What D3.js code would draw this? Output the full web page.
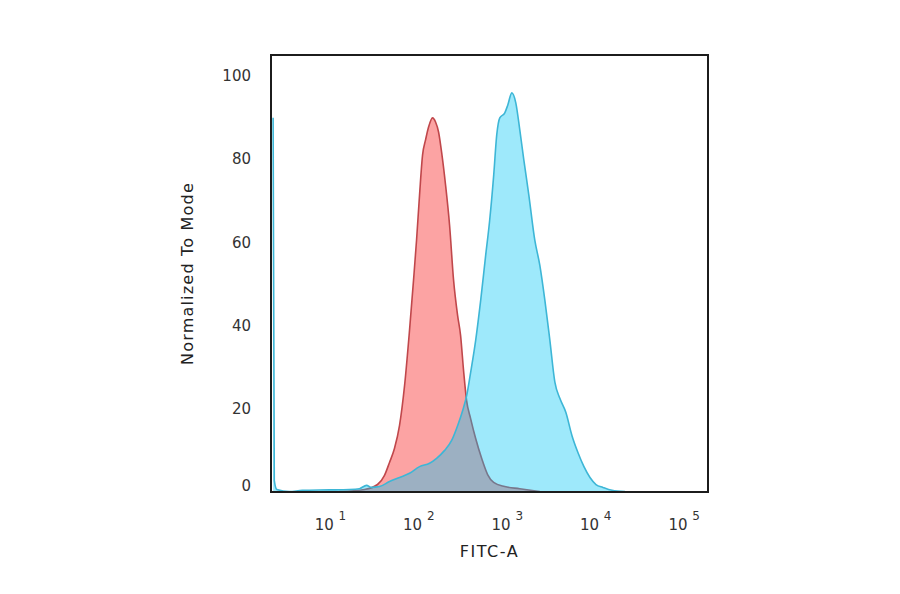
<!DOCTYPE html>
<html>
<head>
<meta charset="utf-8">
<script src="https://cdn.jsdelivr.net/npm/d3@7"></script>
<style>
  body { margin: 0; background: #fff; }
  text { font-family: "DejaVu Sans", sans-serif; }
</style>
</head>
<body>
<div id="wrapper"></div>
<script>
// isotype control (red)
const redIntensity = [12.6, 24.3, 34.1, 40.9, 46.6, 53.1, 60.5, 69.0, 78.5, 87.1, 94.2, 101.9,
  110.2, 119.1, 128.8, 142.9, 154.5, 167.1, 180.7, 200.4, 222.6, 247.0, 274.0, 296.2,
  320.4, 346.4, 384.4, 438.3, 512.7, 599.5, 701.1, 934.4, 1383, 2332];
const redCount = [0.1, 0.6, 1.8, 4.0, 7.1, 10.5, 16.0, 25.6, 38.9, 50.9, 60.5, 71.4,
  81.0, 84.6, 87.7, 89.9, 88.9, 86.5, 81.7, 73.8, 64.1, 50.9, 42.5, 37.7,
  29.2, 22.0, 17.7, 12.9, 8.1, 4.2, 2.3, 1.3, 0.8, 0.1];

// stained sample (blue)
const blueIntensity = [2.25, 2.32, 2.48, 3.43, 4.82, 9.75, 16.4, 21.3, 25.6, 29.2, 35.9, 46.6,
  60.5, 78.5, 101.9, 132.2, 158.7, 195.8, 234.9, 274.9, 313.2, 347.7, 385.7, 439.5,
  500.6, 570.0, 632.4, 702.7, 759.9, 822.4, 937.1, 1014, 1125, 1248, 1385, 1538,
  1751, 2047, 2332, 2659, 3029, 3452, 3930, 4600, 5380, 6290, 7360, 8610,
  10070, 12080, 15280, 21430];
const blueCount = [89.9, 2.8, 0.6, 0.1, 0.4, 0.5, 0.6, 0.8, 1.6, 1.1, 1.3, 2.5,
  3.5, 4.5, 6.1, 6.9, 8.1, 10.0, 12.4, 16.0, 19.6, 23.2, 28.8, 36.5,
  46.1, 56.9, 65.3, 76.2, 85.8, 89.9, 91.1, 93.0, 95.9, 93.5, 87.0, 79.8,
  71.4, 60.5, 54.5, 46.1, 36.5, 26.4, 22.5, 19.1, 13.6, 9.5, 6.1, 3.5,
  1.8, 1.1, 0.4, 0.1];

const xTicks = [1e1, 1e2, 1e3, 1e4, 1e5];
const xTickExponents = ["1", "2", "3", "4", "5"];
const yTicks = [0, 20, 40, 60, 80, 100];
const xDomain = [2.13, 1.86e5];
const yDomain = [0, 105];

const dimensions = {
  width: 900,
  height: 594,
  margin: { top: 55, right: 192, bottom: 102, left: 271 },
};
dimensions.boundedWidth = dimensions.width - dimensions.margin.left - dimensions.margin.right;
dimensions.boundedHeight = dimensions.height - dimensions.margin.top - dimensions.margin.bottom;

const xScale = d3.scaleLog().domain(xDomain).range([0, dimensions.boundedWidth]);
const yScale = d3.scaleLinear().domain(yDomain).range([dimensions.boundedHeight, 0]);

const svg = d3.select("#wrapper").append("svg")
  .attr("width", dimensions.width)
  .attr("height", dimensions.height);

const bounds = svg.append("g")
  .attr("transform", `translate(${dimensions.margin.left},${dimensions.margin.top})`);

bounds.append("clipPath").attr("id", "plot-clip")
  .append("rect")
  .attr("width", dimensions.boundedWidth)
  .attr("height", dimensions.boundedHeight);

const plot = bounds.append("g").attr("clip-path", "url(#plot-clip)");

const area = d3.area()
  .x(d => xScale(d[0]))
  .y0(yScale(0))
  .y1(d => yScale(d[1]))
  .curve(d3.curveMonotoneX);
const outline = d3.line()
  .x(d => xScale(d[0]))
  .y(d => yScale(d[1]))
  .curve(d3.curveMonotoneX);

const redData = redIntensity.map((v, i) => [v, redCount[i]]);
const blueData = blueIntensity.map((v, i) => [v, blueCount[i]]);

plot.append("path").attr("d", area(redData)).attr("fill", "#fca3a3");
plot.append("path").attr("d", outline(redData))
  .attr("fill", "none").attr("stroke", "#c0474b").attr("stroke-width", 1.6);

plot.append("path").attr("d", area(blueData)).attr("fill", "rgba(0,197,245,0.38)");
plot.append("path").attr("d", outline(blueData))
  .attr("fill", "none").attr("stroke", "#3db6d6").attr("stroke-width", 1.6);

// frame
bounds.append("rect")
  .attr("width", dimensions.boundedWidth)
  .attr("height", dimensions.boundedHeight)
  .attr("fill", "none")
  .attr("stroke", "#1c1c1c")
  .attr("stroke-width", 2);

// y tick labels
bounds.append("g").selectAll("text")
  .data(yTicks)
  .join("text")
  .attr("x", -20)
  .attr("y", d => yScale(d))
  .attr("dy", d => d === 0 ? "-0.1em" : "0.35em")
  .attr("text-anchor", "end")
  .attr("font-size", 15)
  .attr("fill", "#333")
  .text(d => d);

// x tick labels (powers of ten)
const xLabels = bounds.append("g").selectAll("text")
  .data(xTicks)
  .join("text")
  .attr("x", d => xScale(d))
  .attr("y", dimensions.boundedHeight + 38)
  .attr("text-anchor", "middle")
  .attr("font-size", 15)
  .attr("fill", "#333");
xLabels.append("tspan").text("10 ");
xLabels.append("tspan")
  .attr("font-size", 12)
  .attr("dy", -10)
  .text((d, i) => xTickExponents[i]);

// axis titles
bounds.append("text")
  .attr("x", dimensions.boundedWidth / 2)
  .attr("y", dimensions.boundedHeight + 65)
  .attr("text-anchor", "middle")
  .attr("font-size", 16)
  .attr("letter-spacing", 1.5)
  .attr("fill", "#222")
  .text("FITC-A");

bounds.append("text")
  .attr("transform", `translate(-78,${dimensions.boundedHeight / 2}) rotate(-90)`)
  .attr("text-anchor", "middle")
  .attr("font-size", 16)
  .attr("letter-spacing", 1.2)
  .attr("fill", "#222")
  .text("Normalized To Mode");
</script>
</body>
</html>
